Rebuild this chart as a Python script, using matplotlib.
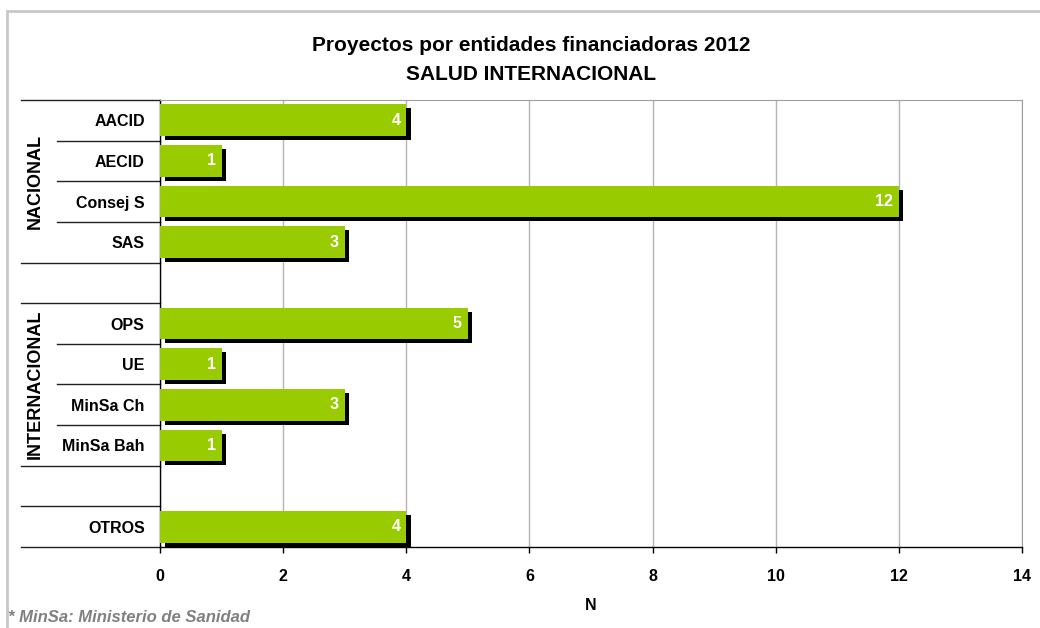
import matplotlib
matplotlib.use('Agg')
import matplotlib.pyplot as plt
import matplotlib.transforms as mtransforms
from matplotlib.patches import Rectangle

# Chart data
group_names = ['NACIONAL', 'INTERNACIONAL', '']
entities = [
    ['AACID', 'AECID', 'Consej S', 'SAS'],
    ['OPS', 'UE', 'MinSa Ch', 'MinSa Bah'],
    ['OTROS'],
]
projects = [
    [4, 1, 12, 3],
    [5, 1, 3, 1],
    [4],
]
x_ticks = [0, 2, 4, 6, 8, 10, 12, 14]

title_text = 'Proyectos por entidades financiadoras 2012\nSALUD INTERNACIONAL'
x_label = 'N'
footnote = '* MinSa: Ministerio de Sanidad'

BAR_GREEN = '#99CC00'

plt.rcParams['font.family'] = ['Liberation Sans', 'DejaVu Sans']

W, H = 1040, 628
fig = plt.figure(figsize=(W / 100, H / 100), dpi=100)

# outer frame of the chart area
fig.patches.append(Rectangle((7 / W, -0.05), 1.1, 1 - 11 / H + 0.05,
                             transform=fig.transFigure, fill=False,
                             edgecolor='#C8C8C8', linewidth=2))

ax = fig.add_axes([160 / W, 1 - 547 / H, (1022 - 160) / W, (547 - 100) / H])

# lay out slots: one per entity plus an empty slot between groups
labels, values, positions = [], [], []
group_spans = []
slot = 0
for gi, (names, vals) in enumerate(zip(entities, projects)):
    start = slot
    for name, v in zip(names, vals):
        labels.append(name)
        values.append(v)
        positions.append(slot)
        slot += 1
    group_spans.append((start, slot - 1))
    if gi < len(entities) - 1:
        slot += 1
n_slots = slot

bar_h = 0.78

# drop shadow, a few pixels right and down
shadow = mtransforms.offset_copy(ax.transData, fig=fig, x=4.5, y=-4, units='dots')
ax.barh(positions, values, height=bar_h, color='black', transform=shadow, zorder=2)
ax.barh(positions, values, height=bar_h, color=BAR_GREEN, zorder=3)

for p, v in zip(positions, values):
    ax.annotate(str(v), xy=(v, p), xytext=(-6, 0), textcoords='offset pixels',
                ha='right', va='center', color='white', fontsize=11.5,
                fontweight='bold', zorder=4)

ax.set_xlim(0, 14)
ax.set_ylim(n_slots - 0.5, -0.5)
ax.set_xticks(x_ticks)
ax.set_xticklabels([str(t) for t in x_ticks], fontsize=11.5, fontweight='bold')
ax.tick_params(axis='x', length=4, width=1, pad=12, color='black')
ax.set_yticks(positions)
ax.set_yticklabels(labels, fontsize=11.5, fontweight='bold')
ax.tick_params(axis='y', length=0, pad=11)

ax.grid(axis='x', color='#B4B4B4', linewidth=1, zorder=0)
ax.set_axisbelow(True)
for side in ['top', 'right']:
    ax.spines[side].set_color('#A0A0A0')
for side in ['left', 'bottom']:
    ax.spines[side].set_color('black')
    ax.spines[side].set_linewidth(1)

ax.set_xlabel(x_label, fontsize=11.5, fontweight='bold', labelpad=10)

# multi-level category separators on the left
blend = mtransforms.blended_transform_factory(ax.transAxes, ax.transData)
x_long = (21 - 160) / (1022 - 160)
x_short = (57 - 160) / (1022 - 160)
for (start, end), gname in zip(group_spans, group_names):
    ax.plot([x_long, 0], [start - 0.5, start - 0.5], transform=blend,
            color='#222222', lw=1, clip_on=False)
    ax.plot([x_long, 0], [end + 0.5, end + 0.5], transform=blend,
            color='#222222', lw=1, clip_on=False)
    for b in range(start, end):
        ax.plot([x_short, 0], [b + 0.5, b + 0.5], transform=blend,
                color='#222222', lw=1, clip_on=False)
    if gname:
        ax.text((35 - 160) / (1022 - 160), (start + end) / 2, gname,
                transform=blend, rotation=90, ha='center', va='center',
                fontsize=13, fontweight='bold')

fig.text(531 / W, 1 - 60 / H, title_text, ha='center', va='center',
         fontsize=15, fontweight='bold', linespacing=1.62)

fig.text(8 / W, 1 - 617 / H, footnote, ha='left', va='center',
         fontsize=12, fontweight='bold', fontstyle='italic', color='#808080')

fig.savefig('out.png', dpi=100)
